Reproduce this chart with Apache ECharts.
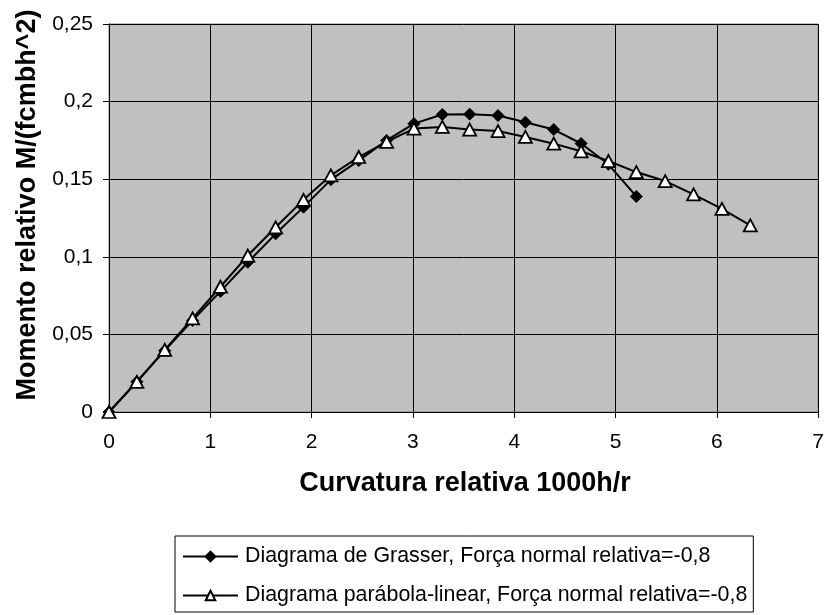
<!DOCTYPE html>
<html>
<head>
<meta charset="utf-8">
<script src="https://cdn.jsdelivr.net/npm/echarts@6/dist/echarts.min.js"></script>
<style>
html,body{margin:0;padding:0;background:#fff;}
#chart{width:827px;height:615px;}
</style>
</head>
<body>
<div id="chart"></div>
<script>
// Curvature values (x) for each series
const xGrasser = [0, 0.275, 0.55, 0.825, 1.10, 1.37, 1.645, 1.92, 2.19, 2.465, 2.74, 3.01, 3.29, 3.56, 3.84, 4.11, 4.39, 4.66, 4.93, 5.205];
const yGrasser = [0, 0.0195, 0.0395, 0.059, 0.0777, 0.0965, 0.1148, 0.132, 0.1497, 0.162, 0.175, 0.1858, 0.1917, 0.1919, 0.191, 0.1867, 0.182, 0.173, 0.1596, 0.1389];
const xParabola = [0, 0.275, 0.55, 0.825, 1.10, 1.37, 1.645, 1.92, 2.19, 2.465, 2.74, 3.01, 3.29, 3.56, 3.84, 4.11, 4.39, 4.66, 4.93, 5.205, 5.49, 5.77, 6.05, 6.33];
const yParabola = [0, 0.0194, 0.040, 0.0603, 0.0807, 0.1008, 0.119, 0.1367, 0.1525, 0.1643, 0.174, 0.1826, 0.1837, 0.182, 0.181, 0.1772, 0.1729, 0.168, 0.1617, 0.1546, 0.1488, 0.1402, 0.1309, 0.1202];
const seriesNames = [
  'Diagrama de Grasser, Força normal relativa=-0,8',
  'Diagrama parábola-linear, Força normal relativa=-0,8'
];
const xTitle = 'Curvatura relativa 1000h/r';
const yTitle = 'Momento relativo M/(fcmbh^2)';

const FONT = '"Liberation Sans", Arial, sans-serif';
const pairs = (xs, ys) => xs.map((x, i) => [x, ys[i]]);

const chart = echarts.init(document.getElementById('chart'), null, {renderer: 'canvas'});
chart.setOption({
  animation: false,
  backgroundColor: '#ffffff',
  grid: {
    left: 109, right: 8, top: 24, bottom: 203,
    show: true, backgroundColor: '#C0C0C0', borderColor: '#808080', borderWidth: 1
  },
  xAxis: {
    type: 'value', min: 0, max: 7, interval: 1,
    axisLine: {show: true, onZero: false, lineStyle: {color: '#000', width: 1}},
    axisTick: {show: true, length: 6, lineStyle: {color: '#000'}},
    axisLabel: {fontFamily: FONT, fontSize: 21, color: '#000', margin: 20},
    splitLine: {show: true, lineStyle: {color: '#000', width: 1}}
  },
  yAxis: {
    type: 'value', min: 0, max: 0.25, interval: 0.05,
    axisLine: {show: true, onZero: false, lineStyle: {color: '#000', width: 1}},
    axisTick: {show: true, length: 6, lineStyle: {color: '#000'}},
    axisLabel: {
      fontFamily: FONT, fontSize: 21, color: '#000', margin: 16,
      formatter: v => String(Math.round(v * 100) / 100).replace('.', ',')
    },
    splitLine: {show: true, lineStyle: {color: '#000', width: 1}}
  },
  legend: {
    orient: 'vertical',
    left: 175, top: 536,
    padding: [10, 6, 6, 7],
    itemWidth: 55, itemHeight: 12, itemGap: 18,
    borderColor: '#000', borderWidth: 1, backgroundColor: '#fff',
    textStyle: {fontFamily: FONT, fontSize: 21.4, lineHeight: 21, color: '#000', padding: [0, 0, 0, 2]},
    data: seriesNames
  },
  graphic: [
    {
      type: 'text', x: 465, y: 484,
      style: {text: xTitle, font: 'bold 27px ' + FONT, fill: '#000', textAlign: 'center', textVerticalAlign: 'middle'}
    },
    {
      type: 'text', x: 27.5, y: 205, rotation: Math.PI / 2,
      style: {text: yTitle, font: 'bold 27px ' + FONT, fill: '#000', textAlign: 'center', textVerticalAlign: 'middle'}
    }
  ],
  series: [
    {
      name: seriesNames[0], type: 'line',
      data: pairs(xGrasser, yGrasser),
      symbol: 'diamond', symbolSize: [12, 12],
      lineStyle: {color: '#000', width: 2},
      itemStyle: {color: '#000', borderColor: '#000', borderWidth: 1},
      z: 2
    },
    {
      name: seriesNames[1], type: 'line',
      data: pairs(xParabola, yParabola),
      symbol: 'triangle', symbolSize: [13, 12],
      lineStyle: {color: '#000', width: 2},
      itemStyle: {color: '#fff', borderColor: '#000', borderWidth: 1.8},
      z: 3
    }
  ]
});
</script>
</body>
</html>
